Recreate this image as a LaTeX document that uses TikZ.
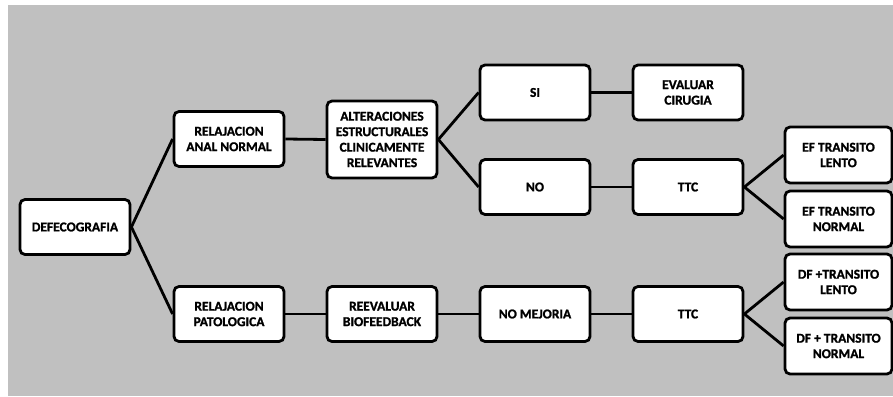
\documentclass[tikz,border=0pt]{standalone}
\usepackage{fontspec}
\setmainfont{Carlito}[BoldFeatures={FakeBold=1.3}]
\begin{document}
\begin{tikzpicture}[x=1pt,y=-1pt,
  box/.style={draw=black, line width=2.8pt, rounded corners=5pt, fill=white,
    minimum width=110pt, minimum height=55pt, align=center, inner sep=0pt,
    font=\fontsize{13.5}{15.5}\selectfont\bfseries},
  tall/.style={box, minimum height=77pt},
  endbox/.style={box, minimum width=107pt, minimum height=56pt},
  link/.style={line width=2.8pt, draw=black}]
\useasboundingbox (0,0) rectangle (893,396);
\fill[fill={rgb,255:red,192;green,192;blue,192}] (8,5) rectangle (893,396);

\node[box] (def) at (75,227) {DEFECOGRAFIA};
\node[box] (ran) at (229,139) {RELAJACION\\ANAL NORMAL};
\node[box] (rpa) at (229,314) {RELAJACION\\PATOLOGICA};
\node[tall] (alt) at (382,139.5) {ALTERACIONES\\ESTRUCTURALES\\CLINICAMENTE\\RELEVANTES};
\node[box] (si) at (535,92.5) {SI};
\node[box] (no) at (535,187) {NO};
\node[box] (eva) at (688,92.5) {EVALUAR\\CIRUGIA};
\node[box] (ttc1) at (688,187) {TTC};
\node[endbox] (efl) at (838.5,155) {EF TRANSITO\\LENTO};
\node[endbox] (efn) at (838.5,219) {EF TRANSITO\\NORMAL};
\node[box] (reb) at (382,314) {REEVALUAR\\BIOFEEDBACK};
\node[box] (nom) at (535,314) {NO MEJORIA};
\node[box] (ttc2) at (688,314) {TTC};
\node[endbox] (dfl) at (838.5,282) {DF +TRANSITO\\LENTO};
\node[endbox] (dfn) at (838.5,346) {DF + TRANSITO\\NORMAL};

\draw[link] (def.east) -- (ran.west);
\draw[link] (def.east) -- (rpa.west);
\draw[link] (ran.east) -- (alt.west);
\draw[link] (alt.east) -- (si.west);
\draw[link] (alt.east) -- (no.west);
\draw[link] (si.east) -- (eva.west);
\draw[link] (no.east) -- (ttc1.west);
\draw[link] (ttc1.east) -- (efl.west);
\draw[link] (ttc1.east) -- (efn.west);
\draw[link] (rpa.east) -- (reb.west);
\draw[link] (reb.east) -- (nom.west);
\draw[link] (nom.east) -- (ttc2.west);
\draw[link] (ttc2.east) -- (dfl.west);
\draw[link] (ttc2.east) -- (dfn.west);
\end{tikzpicture}
\end{document}
